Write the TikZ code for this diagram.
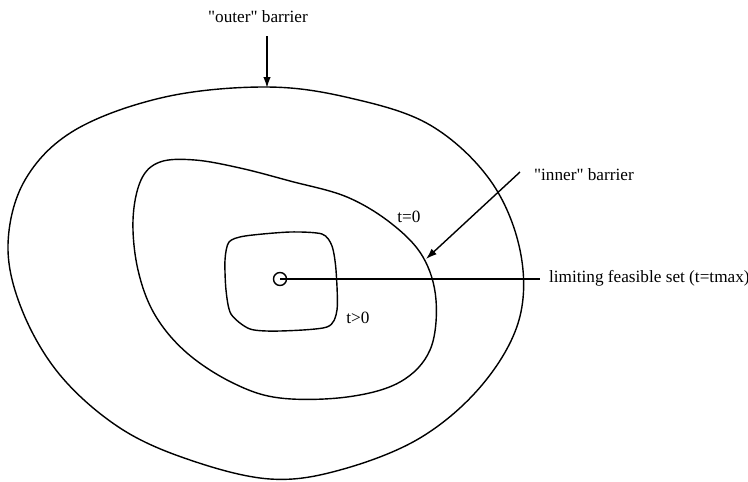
\documentclass[tikz,border=0pt]{standalone}
\usepackage{fontspec}
\setmainfont{Liberation Serif}
\usepackage{tikz}
\usetikzlibrary{arrows.meta,positioning,calc}
\tikzset{
  >={Latex[length=2.2mm,width=1.5mm]},
  barrier/.style={line width=0.8pt, smooth cycle, tension=0.6},
  lbl/.style={font=\fontsize{9.8}{11}\selectfont, inner sep=1pt},
}
\newcommand{\dq}{\textquotedbl}
\begin{document}
\begin{tikzpicture}[x=0.02cm, y=-0.02cm]
  \useasboundingbox (0,0) rectangle (748,481);
  % outer barrier
  \draw[barrier] plot coordinates {(267,87) (350,98) (430,125) (490,180) (520,250) (519,320) (482,385)
    (420,438) (340,470) (270,479) (190,460) (120,428) (60,375) (22,310) (8,245) (25,180) (75,130)
    (165,97)};
  % inner barrier (t=0)
  \draw[barrier] plot coordinates {(160,162) (195,160) (240,168) (290,181) (347,197) (392,224) (423,257)
    (436,300) (430,350) (400,382) (347,397) (280,398) (233,383) (187,353) (155,315) (138,270)
    (133,220) (141,180)};
  % t>0
  \draw[barrier, tension=0.45] plot coordinates {(245,236) (290,232) (322,234) (332,246) (336,270)
    (337,310) (327,327) (280,331) (250,329) (231,314) (226,290) (225,260) (229,242)};
  % limiting set
  \node[circle, draw, line width=0.8pt, minimum size=0.26cm, inner sep=0pt] (lim) at (280,279) {};
  \node[lbl, anchor=west] (limtxt) at (547,278) {limiting feasible set (t=tmax)};
  \draw[line width=0.8pt] (lim.center) -- ($(limtxt.west)+(-7,1)$);
  % labels
  \node[lbl] (outer) at (258,17) {\dq outer\dq{} barrier};
  \coordinate (otip) at (267,88);
  \draw[->, line width=0.9pt] (267,36) -- (otip);
  \node[lbl, anchor=west] (inner) at (532,175) {\dq inner\dq{} barrier};
  \coordinate (istart) at (520,172);
  \coordinate (itip) at (426,259);
  \draw[->, line width=0.8pt] (istart) -- (itip);
  \node[lbl] (t0) at (409,217) {t=0};
  \node[lbl] (tpos) at (358,318) {t>0};
\end{tikzpicture}
\end{document}
